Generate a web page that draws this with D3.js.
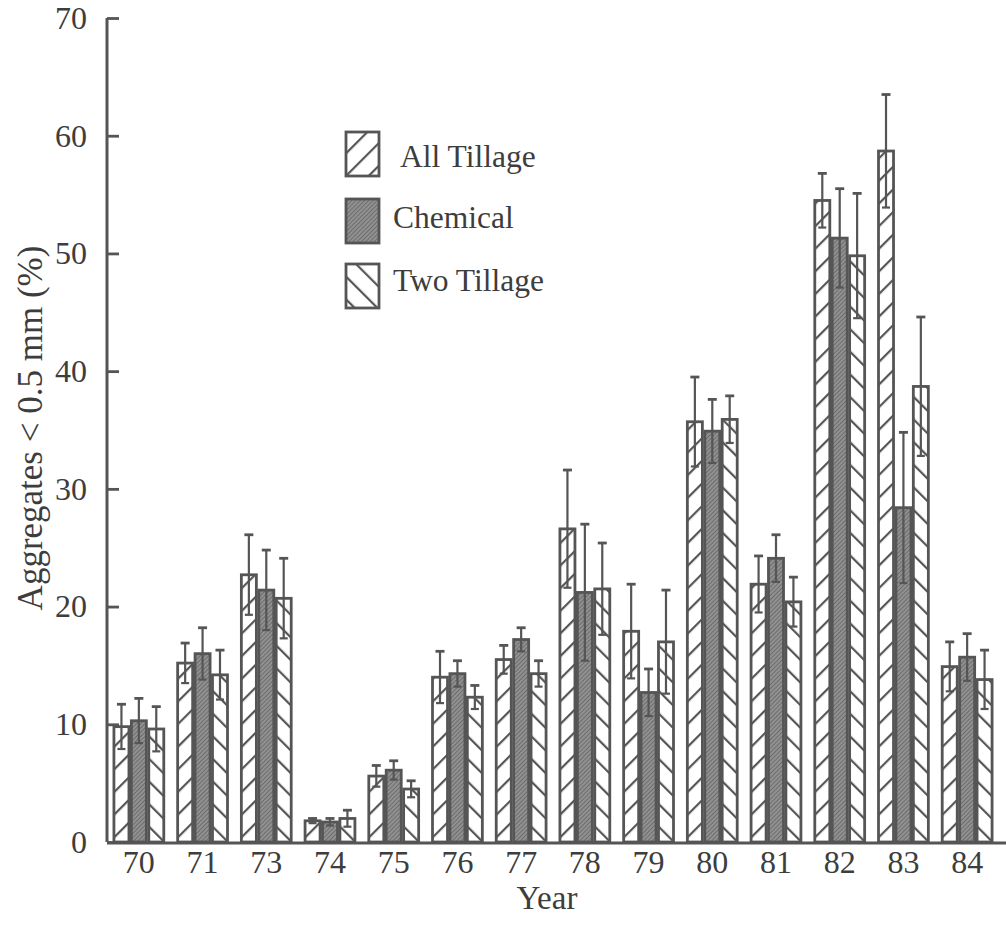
<!DOCTYPE html>
<html>
<head>
<meta charset="utf-8">
<script src="https://cdn.jsdelivr.net/npm/d3@7"></script>
<style>
  body { margin: 0; background: #fff; }
  text { font-family: "Liberation Serif", "Times New Roman", serif; fill: #3d3d3d; }
</style>
</head>
<body>
<div id="chart"></div>
<script>
// values
const years = ["70", "71", "73", "74", "75", "76", "77", "78", "79", "80", "81", "82", "83", "84"];
const seriesNames = ["All Tillage", "Chemical", "Two Tillage"];
const allTillage = [9.8, 15.2, 22.7, 1.8, 5.6, 14.0, 15.5, 26.6, 17.9, 35.7, 21.9, 54.5, 58.7, 14.9];
const allTillageErr = [1.9, 1.7, 3.4, 0.2, 0.9, 2.2, 1.2, 5.0, 4.0, 3.8, 2.4, 2.3, 4.8, 2.1];
const chemical = [10.3, 16.0, 21.4, 1.7, 6.1, 14.3, 17.2, 21.2, 12.7, 34.9, 24.1, 51.3, 28.4, 15.7];
const chemicalErr = [1.9, 2.2, 3.4, 0.3, 0.8, 1.1, 1.0, 5.8, 2.0, 2.7, 2.0, 4.2, 6.4, 2.0];
const twoTillage = [9.6, 14.2, 20.7, 2.0, 4.5, 12.3, 14.3, 21.5, 17.0, 35.9, 20.4, 49.8, 38.7, 13.8];
const twoTillageErr = [1.9, 2.1, 3.4, 0.7, 0.7, 1.0, 1.1, 3.9, 4.4, 2.0, 2.1, 5.3, 5.9, 2.5];
const yTicks = [0, 10, 20, 30, 40, 50, 60, 70];

const width = 1006, height = 926;
const ink = "#555";

const svg = d3.select("#chart").append("svg")
  .attr("width", width)
  .attr("height", height);

// hatch patterns
const defs = svg.append("defs");
function hatch(id, angle) {
  const p = defs.append("pattern")
    .attr("id", id)
    .attr("patternUnits", "userSpaceOnUse")
    .attr("width", 16).attr("height", 16)
    .attr("patternTransform", `rotate(${angle})`);
  p.append("rect").attr("width", 16).attr("height", 16).attr("fill", "#fff");
  p.append("line").attr("x1", 1).attr("y1", 0).attr("x2", 1).attr("y2", 16)
    .attr("stroke", ink).attr("stroke-width", 2.4);
}
hatch("hatchUp", 45);
hatch("hatchDown", -45);
const dense = defs.append("pattern")
  .attr("id", "dense")
  .attr("patternUnits", "userSpaceOnUse")
  .attr("width", 3).attr("height", 3)
  .attr("patternTransform", "rotate(45)");
dense.append("rect").attr("width", 3).attr("height", 3).attr("fill", "#919191");
dense.append("line").attr("x1", 0).attr("y1", 0).attr("x2", 0).attr("y2", 3)
  .attr("stroke", "#5e5e5e").attr("stroke-width", 1.4);

const fills = ["url(#hatchUp)", "url(#dense)", "url(#hatchDown)"];

const x0 = d3.scaleBand().domain(years).range([107, 999]).paddingInner(0.18).paddingOuter(0.09);
const x1 = d3.scaleBand().domain(seriesNames).range([0, x0.bandwidth()]);
const y = d3.scaleLinear().domain([0, 70]).range([842, 18]);

const data = years.map((yr, i) => ({
  year: yr,
  vals: [
    { s: seriesNames[0], v: allTillage[i], e: allTillageErr[i], k: 0 },
    { s: seriesNames[1], v: chemical[i], e: chemicalErr[i], k: 1 },
    { s: seriesNames[2], v: twoTillage[i], e: twoTillageErr[i], k: 2 }
  ]
}));

const groups = svg.append("g").selectAll("g").data(data).join("g")
  .attr("transform", d => `translate(${x0(d.year)},0)`);

groups.selectAll("rect").data(d => d.vals).join("rect")
  .attr("x", d => x1(d.s) + 1.2)
  .attr("y", d => y(d.v))
  .attr("width", x1.bandwidth() - 2.4)
  .attr("height", d => y(0) - y(d.v))
  .attr("fill", d => fills[d.k])
  .attr("stroke", ink)
  .attr("stroke-width", 2.8);

// error bars
const eb = groups.selectAll("g.err").data(d => d.vals).join("g").attr("class", "err")
  .attr("stroke", ink).attr("stroke-width", 2.2);
eb.append("line")
  .attr("x1", d => x1(d.s) + x1.bandwidth() / 2)
  .attr("x2", d => x1(d.s) + x1.bandwidth() / 2)
  .attr("y1", d => y(d.v + d.e))
  .attr("y2", d => y(Math.max(0, d.v - d.e)));
eb.append("line")
  .attr("x1", d => x1(d.s) + x1.bandwidth() / 2 - 4.5)
  .attr("x2", d => x1(d.s) + x1.bandwidth() / 2 + 4.5)
  .attr("y1", d => y(d.v + d.e))
  .attr("y2", d => y(d.v + d.e))
  .attr("stroke-width", 2.8);
eb.append("line")
  .attr("x1", d => x1(d.s) + x1.bandwidth() / 2 - 4)
  .attr("x2", d => x1(d.s) + x1.bandwidth() / 2 + 4)
  .attr("y1", d => y(Math.max(0, d.v - d.e)))
  .attr("y2", d => y(Math.max(0, d.v - d.e)));

// y axis
const yAxis = svg.append("g")
  .attr("transform", "translate(107,0)")
  .call(d3.axisRight(y).tickValues(yTicks).tickSize(12).tickFormat(""));
yAxis.select(".domain").attr("stroke", ink).attr("stroke-width", 3).attr("d", `M0,${y(0)}V${y(70)}`);
yAxis.selectAll(".tick line").attr("stroke", ink).attr("stroke-width", 2.8);

svg.append("g").selectAll("text").data(yTicks).join("text")
  .attr("x", 87)
  .attr("y", d => y(d))
  .attr("dy", "0.34em")
  .attr("text-anchor", "end")
  .attr("font-size", 32)
  .text(d => d);

// x axis
const xAxis = svg.append("g")
  .attr("transform", `translate(0,${y(0) + 1})`)
  .call(d3.axisBottom(x0).tickSize(0).tickPadding(0));
xAxis.select(".domain").attr("stroke", ink).attr("stroke-width", 3).attr("d", "M107,0H1006");
xAxis.selectAll(".tick text")
  .attr("y", 30)
  .attr("dy", 0)
  .attr("font-size", 32)
  .attr("font-family", "Liberation Serif, serif")
  .attr("fill", "#3d3d3d");

svg.append("text")
  .attr("x", 547).attr("y", 909)
  .attr("text-anchor", "middle")
  .attr("font-size", 33)
  .text("Year");

svg.append("text")
  .attr("transform", "translate(42,428) rotate(-90)")
  .attr("text-anchor", "middle")
  .attr("font-size", 35)
  .text("Aggregates < 0.5 mm (%)");

// legend
const legendTop = [132, 199, 264];
const legendTextX = [400, 393, 393];
const legendBase = [167, 228, 291];
const legend = svg.append("g").selectAll("g").data(seriesNames).join("g");
legend.append("rect")
  .attr("x", 346)
  .attr("y", (d, i) => legendTop[i])
  .attr("width", 33)
  .attr("height", 44)
  .attr("fill", (d, i) => fills[i])
  .attr("stroke", ink)
  .attr("stroke-width", 2.8);
legend.append("text")
  .attr("x", (d, i) => legendTextX[i])
  .attr("y", (d, i) => legendBase[i])
  .attr("font-size", 31.5)
  .text(d => d);
</script>
</body>
</html>
